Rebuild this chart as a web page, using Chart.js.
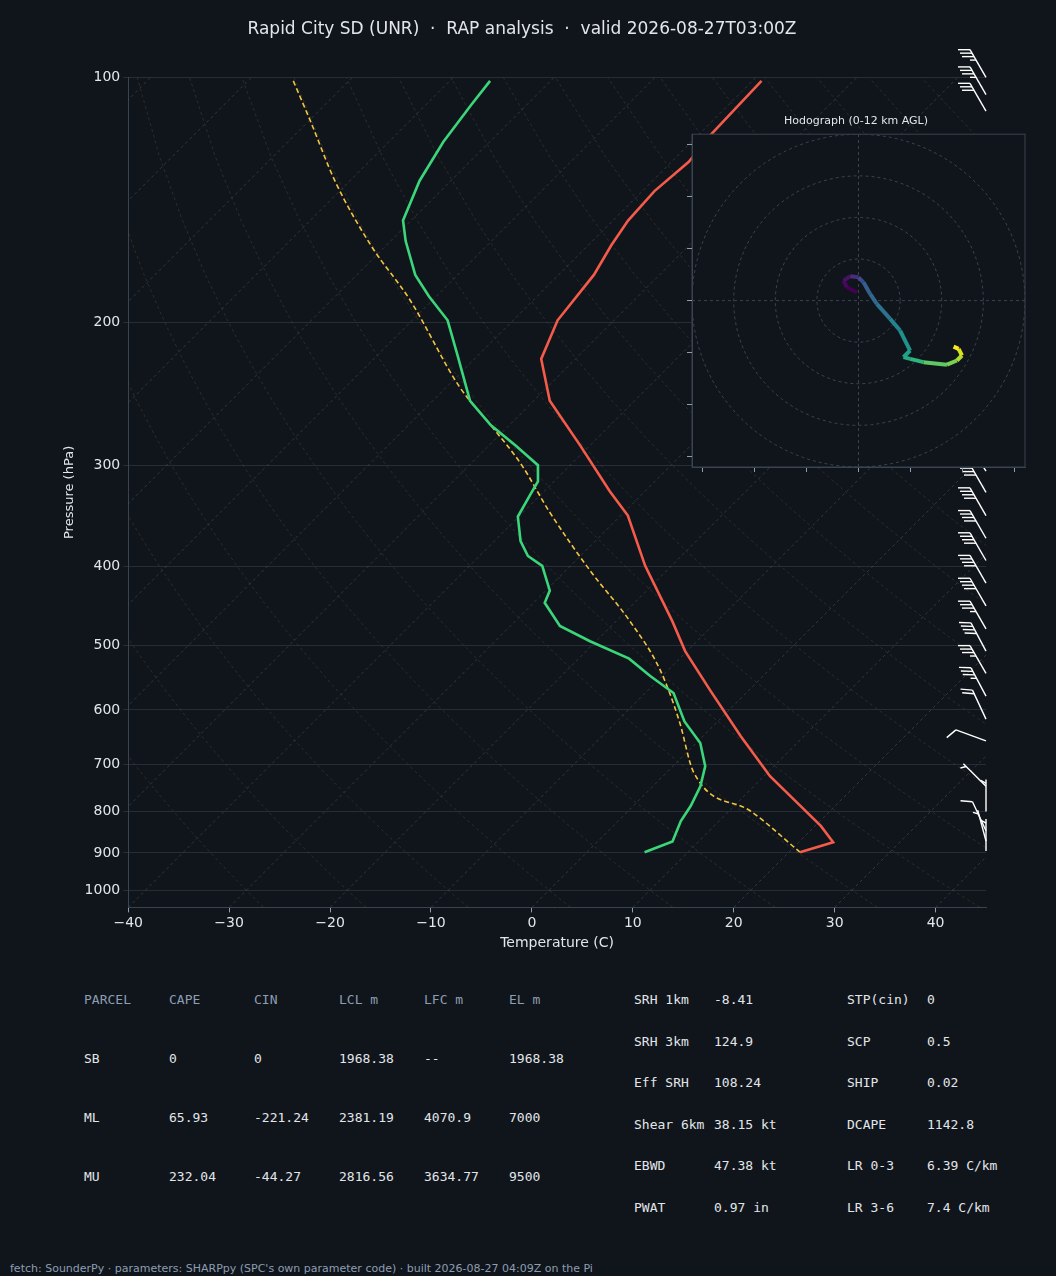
<!DOCTYPE html>
<html lang="en">
<head>
<meta charset="UTF-8">
<title>Rapid City SD (UNR) sounding</title>
<script src="https://cdn.jsdelivr.net/npm/chart.js"></script>
<style>
  body { margin: 0; background: #10151b; width: 1056px; height: 1276px; position: relative; overflow: hidden; font-family: "DejaVu Sans", sans-serif; }
  #main { position: absolute; left: 0; top: 0; width: 1056px; height: 960px; }
  #hodo { position: absolute; left: 687px; top: 113px; width: 339px; height: 359px; }
  .t { position: absolute; font-family: "DejaVu Sans Mono", monospace; font-size: 13px; color: #e2e6ea; white-space: pre; }
  .h { color: #8d9db2; }
  #foot { position: absolute; left: 10px; top: 1262px; font-size: 11px; color: #8d9db2; }
</style>
</head>
<body>
<div id="main"><canvas id="skewt"></canvas></div>
<div id="hodo"><canvas id="hodoCanvas"></canvas></div>
<div id="table"></div>
<div id="foot">fetch: SounderPy · parameters: SHARPpy (SPC's own parameter code) · built 2026-08-27 04:09Z on the Pi</div>

<script>
// sounding values
const tempP   = [101, 118, 127, 138, 150, 161, 175, 199, 222, 250, 284, 323, 346, 399, 467, 508, 569, 646, 724, 788, 834, 873, 898];
const tempC   = [-59.1, -58.8, -58.3, -58.8, -58.5, -57.7, -56.5, -55.6, -53.4, -48.4, -40.9, -33.5, -29.3, -22.6, -14.4, -10.2, -3.7, 3.7, 10.6, 16.6, 20.6, 23.4, 21.1];
const dewP    = [101, 108, 120, 134, 150, 159, 175, 186, 199, 220, 250, 268, 284, 300, 314, 327, 347, 372, 388, 399, 428, 443, 473, 494, 519, 545, 572, 620, 659, 704, 745, 788, 822, 871, 898];
const dewC    = [-86.0, -85.5, -84.6, -83.1, -80.8, -78.5, -74.2, -70.7, -66.5, -62.0, -56.3, -51.8, -47.3, -43.2, -41.6, -41.0, -40.1, -37.4, -35.2, -32.8, -29.6, -28.9, -25.1, -20.6, -15.0, -11.2, -7.2, -3.3, 0.4, 3.2, 4.7, 5.7, 6.2, 7.4, 5.7];
const parcelP = [101, 113, 134, 161, 188, 240, 268, 300, 342, 405, 467, 537, 620, 714, 799, 898];
const parcelC = [-105.5, -99.9, -91.5, -81.5, -72.2, -58.8, -51.8, -44.8, -37.5, -27.5, -18.6, -10.7, -3.8, 2.5, 12.1, 21.1];

const pressureTicks = [100, 200, 300, 400, 500, 600, 700, 800, 900, 1000];
const tempTicks = [-40, -30, -20, -10, 0, 10, 20, 30, 40];

// wind barbs: pressure, direction (deg from), speed (kt)
const barbP   = [100, 105, 110, 305, 324, 346, 369, 393, 419, 447, 477, 508, 541, 577, 616, 655, 745, 800, 845, 870, 895];
const barbDir = [330, 330, 330, 328, 330, 330, 330, 330, 330, 330, 330, 332, 330, 332, 335, 290, 315, 0, 335, 345, 0];
const barbSpd = [35, 35, 30, 35, 40, 40, 40, 40, 40, 40, 35, 40, 35, 35, 20, 10, 5, 5, 10, 5, 5];

// hodograph u/v (kt), low to high
const hodoU = [-0.8, -5.6, -7.2, -4.0, 0, 2.4, 5.6, 8.8, 15.2, 20.0, 24.8, 21.6, 24.8, 31.2, 42.5, 47.3, 49.7, 48.1, 45.7];
const hodoV = [4.0, 6.4, 9.6, 11.7, 11.2, 8.8, 3.2, -1.6, -8.8, -14.4, -24.0, -27.2, -28.0, -29.6, -30.8, -28.8, -26.4, -23.2, -22.1];

const BG = '#10151b', GRID = '#262d36', FG = '#e2e6ea';

function skewX(t, p) { return t + 80.5 * Math.log10(1050 / p); }
function line(ps, ts) { return ps.map((p, i) => ({ x: skewX(ts[i], p), y: p })); }

// background guides: skewed isotherms and dry adiabats
const guides = [];
for (let t = -120; t <= 40; t += 10) {
  guides.push({ data: [{ x: skewX(t, 1050), y: 1050 }, { x: skewX(t, 100), y: 100 }],
    borderColor: 'rgba(120,130,145,0.4)', borderWidth: 0.8, borderDash: [3, 3], pointRadius: 0, showLine: true, order: 20 });
}
const levels = [];
for (let p = 1050; p >= 100; p -= 25) levels.push(p);
for (let th = -30; th <= 200; th += 10) {
  guides.push({ data: levels.map(p => ({ x: skewX((th + 273.15) * Math.pow(p / 1000, 0.2857) - 273.15, p), y: p })),
    borderColor: 'rgba(120,110,80,0.35)', borderWidth: 0.8, borderDash: [3, 3], pointRadius: 0, showLine: true, order: 20 });
}

const barbPlugin = {
  id: 'barbs',
  afterDatasetsDraw(chart) {
    const ctx = chart.ctx, ys = chart.scales.y, x0 = chart.chartArea.right;
    ctx.save();
    ctx.strokeStyle = '#ffffff'; ctx.fillStyle = '#ffffff'; ctx.lineWidth = 1.4;
    const L = 32;
    barbP.forEach((p, i) => {
      const y0 = ys.getPixelForValue(p);
      const a = barbDir[i] * Math.PI / 180;
      const sx = Math.sin(a), sy = -Math.cos(a);
      // feather direction: staff rotated -60deg
      const r = -Math.PI / 3;
      const fx = sx * Math.cos(r) - sy * Math.sin(r), fy = sx * Math.sin(r) + sy * Math.cos(r);
      const tx = x0 + sx * L, ty = y0 + sy * L;
      ctx.beginPath(); ctx.moveTo(x0, y0); ctx.lineTo(tx, ty); ctx.stroke();
      let s = Math.round(barbSpd[i] / 5) * 5, d = 0;
      while (s >= 50) { ctx.beginPath(); ctx.moveTo(tx - sx * d, ty - sy * d);
        ctx.lineTo(tx - sx * d + fx * 12, ty - sy * d + fy * 12); ctx.lineTo(tx - sx * (d + 6), ty - sy * (d + 6)); ctx.fill(); d += 8; s -= 50; }
      while (s >= 10) { ctx.beginPath(); ctx.moveTo(tx - sx * d, ty - sy * d);
        ctx.lineTo(tx - sx * d + fx * 12, ty - sy * d + fy * 12); ctx.stroke(); d += 4; s -= 10; }
      if (s >= 5) { if (d === 0) d = 4; ctx.beginPath(); ctx.moveTo(tx - sx * d, ty - sy * d);
        ctx.lineTo(tx - sx * d + fx * 6, ty - sy * d + fy * 6); ctx.stroke(); }
    });
    ctx.restore();
  }
};

Chart.defaults.font.family = '"DejaVu Sans", sans-serif';

new Chart(document.getElementById('skewt'), {
  type: 'scatter',
  data: {
    datasets: [
      { label: 'T', data: line(tempP, tempC), borderColor: '#f45b4a', borderWidth: 2.6, showLine: true, pointRadius: 0, order: 1 },
      { label: 'Td', data: line(dewP, dewC), borderColor: '#3bd67a', borderWidth: 2.6, showLine: true, pointRadius: 0, order: 2 },
      { label: 'Parcel', data: line(parcelP, parcelC), borderColor: '#f2c440', borderWidth: 1.6, borderDash: [5, 3], showLine: true, pointRadius: 0, cubicInterpolationMode: 'monotone', order: 3 },
      ...guides
    ]
  },
  options: {
    responsive: true, maintainAspectRatio: false, animation: false,
    layout: { padding: { left: 58, right: 70, top: 8, bottom: 8 } },
    plugins: {
      legend: { display: false }, tooltip: { enabled: false },
      title: { display: true, text: 'Rapid City SD (UNR)  ·  RAP analysis  ·  valid 2026-08-27T03:00Z',
        color: FG, font: { size: 17, weight: 'normal' }, padding: { top: 11, bottom: 38 } }
    },
    scales: {
      x: {
        type: 'linear', min: -40, max: 45,
        afterBuildTicks: ax => { ax.ticks = tempTicks.map(v => ({ value: v })); },
        ticks: { color: FG, font: { size: 14 }, callback: v => String(v).replace('-', '\u2212') },
        grid: { drawOnChartArea: false, color: '#8d9db2', tickLength: 5 },
        border: { color: '#3a4350' },
        title: { display: true, text: 'Temperature (C)', color: FG, font: { size: 14 }, padding: 0 }
      },
      y: {
        type: 'logarithmic', min: 100, max: 1050, reverse: true,
        afterBuildTicks: ax => { ax.ticks = pressureTicks.map(v => ({ value: v })); },
        ticks: { color: FG, font: { size: 14 }, callback: v => String(v) },
        grid: { color: GRID, tickLength: 5 },
        border: { color: '#3a4350' },
        title: { display: true, text: 'Pressure (hPa)', color: FG, font: { size: 13 }, padding: 4 }
      }
    }
  },
  plugins: [barbPlugin]
});

// hodograph inset
const viridis = ['#440154', '#46085c', '#471164', '#472d7b', '#3e4a89', '#3b528b', '#355f8d', '#31688e', '#2c728e', '#26828e', '#21918c', '#1fa088', '#22a884', '#2fb47c', '#44bf70', '#5ec962', '#7ad151', '#addc30', '#d8e219', '#fde725'];
const rings = [];
for (let r = 20; r <= 80; r += 20) {
  const pts = [];
  for (let a = 0; a <= 360; a += 4) pts.push({ x: r * Math.cos(a * Math.PI / 180), y: r * Math.sin(a * Math.PI / 180) });
  rings.push({ data: pts, borderColor: '#39424e', borderWidth: 1, borderDash: [3, 3], showLine: true, pointRadius: 0, order: 5 });
}
const hodoBg = { id: 'hodoBg', beforeDraw(c) { const ctx = c.ctx; const a = c.chartArea; ctx.save(); ctx.fillStyle = BG;
  ctx.fillRect(a.left, a.top, a.right - a.left, a.bottom - a.top);
  ctx.strokeStyle = '#3a4350'; ctx.lineWidth = 1; ctx.strokeRect(a.left, a.top, a.right - a.left, a.bottom - a.top); ctx.restore(); } };

new Chart(document.getElementById('hodoCanvas'), {
  type: 'scatter',
  data: {
    datasets: [
      { data: hodoU.map((u, i) => ({ x: u, y: hodoV[i] })), showLine: true, pointRadius: 0, borderWidth: 4, borderColor: viridis[0],
        segment: { borderColor: c => viridis[Math.min(viridis.length - 1, Math.round(c.p0DataIndex * (viridis.length - 1) / (hodoU.length - 2)))] }, order: 1 },
      { data: [{ x: -80, y: 0 }, { x: 80, y: 0 }], borderColor: '#39424e', borderWidth: 1, borderDash: [3, 3], showLine: true, pointRadius: 0, order: 5 },
      { data: [{ x: 0, y: -80 }, { x: 0, y: 80 }], borderColor: '#39424e', borderWidth: 1, borderDash: [3, 3], showLine: true, pointRadius: 0, order: 5 },
      ...rings
    ]
  },
  options: {
    responsive: true, maintainAspectRatio: false, animation: false,
    layout: { padding: { left: 0, right: 1, top: 0, bottom: 0 } },
    plugins: { legend: { display: false }, tooltip: { enabled: false },
      title: { display: true, text: 'Hodograph (0-12 km AGL)', color: FG, font: { size: 11, weight: 'normal' }, padding: { top: 2, bottom: 6 } } },
    scales: {
      x: { min: -80, max: 80, afterBuildTicks: ax => { ax.ticks = [-75, -50, -25, 0, 25, 50, 75].map(v => ({ value: v })); },
        ticks: { display: false }, grid: { drawOnChartArea: false, color: '#8d9db2', tickLength: 5 }, border: { color: '#3a4350' } },
      y: { min: -80, max: 80, afterBuildTicks: ax => { ax.ticks = [-75, -50, -25, 0, 25, 50, 75].map(v => ({ value: v })); },
        ticks: { display: false }, grid: { drawOnChartArea: false, color: '#8d9db2', tickLength: 5 }, border: { color: '#3a4350' } }
    }
  },
  plugins: [hodoBg]
});

// parameter table
const parcelHead = ['PARCEL', 'CAPE', 'CIN', 'LCL m', 'LFC m', 'EL m'];
const parcelRows = [
  ['SB', '0', '0', '1968.38', '--', '1968.38'],
  ['ML', '65.93', '-221.24', '2381.19', '4070.9', '7000'],
  ['MU', '232.04', '-44.27', '2816.56', '3634.77', '9500']
];
const kinA = [['SRH 1km', '-8.41'], ['SRH 3km', '124.9'], ['Eff SRH', '108.24'], ['Shear 6km', '38.15 kt'], ['EBWD', '47.38 kt'], ['PWAT', '0.97 in']];
const kinB = [['STP(cin)', '0'], ['SCP', '0.5'], ['SHIP', '0.02'], ['DCAPE', '1142.8'], ['LR 0-3', '6.39 C/km'], ['LR 3-6', '7.4 C/km']];

const tbl = document.getElementById('table');
function put(txt, x, y, cls) { const d = document.createElement('div'); d.className = 't ' + (cls || ''); d.textContent = txt; d.style.left = x + 'px'; d.style.top = (y - 8) + 'px'; tbl.appendChild(d); }
const colX = [84, 169, 254, 339, 424, 509];
parcelHead.forEach((h, i) => put(h, colX[i], 1000, 'h'));
parcelRows.forEach((r, j) => r.forEach((v, i) => put(v, colX[i], 1059 + j * 59)));
kinA.forEach((r, j) => { put(r[0], 634, 1000 + j * 41.5); put(r[1], 714, 1000 + j * 41.5); });
kinB.forEach((r, j) => { put(r[0], 847, 1000 + j * 41.5); put(r[1], 927, 1000 + j * 41.5); });
</script>
</body>
</html>
